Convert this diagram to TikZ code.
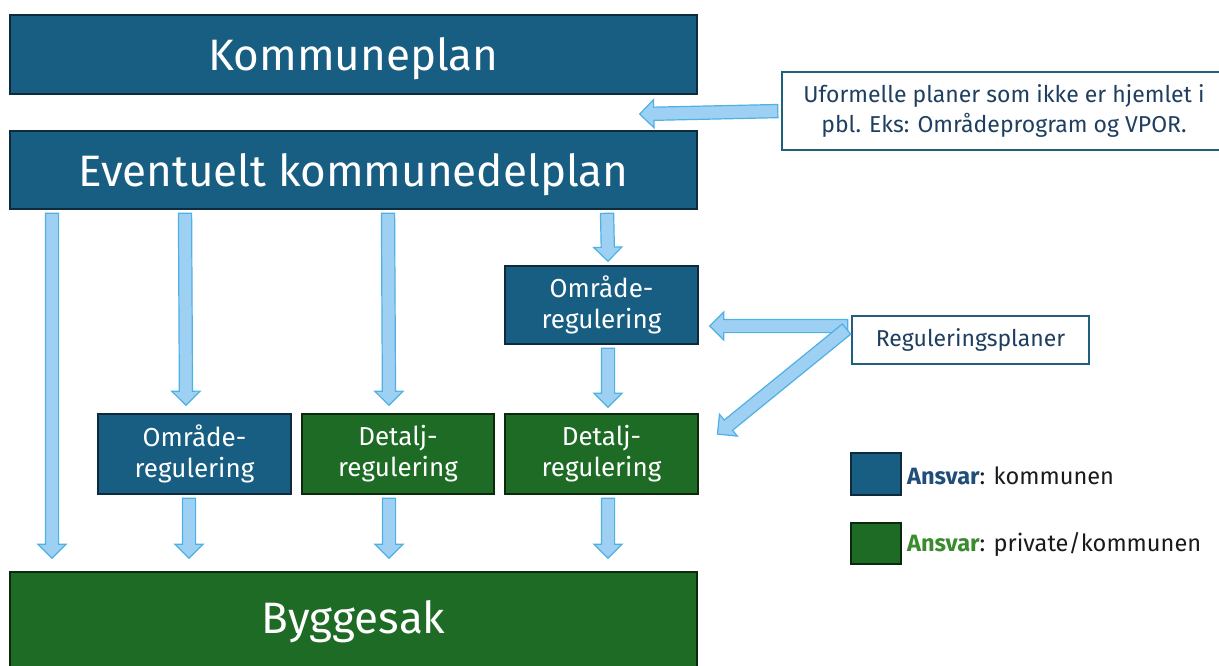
\documentclass[tikz,border=0pt]{standalone}
\usepackage{fontspec}
\setmainfont{Fira Sans}
\usetikzlibrary{shapes.arrows,calc}
\definecolor{bfill}{HTML}{175E82}
\definecolor{bedge}{HTML}{0E2B3D}
\definecolor{gfill}{HTML}{1D6B24}
\definecolor{gedge}{HTML}{0B2A0D}
\definecolor{afill}{HTML}{9DD0F2}
\definecolor{aedge}{HTML}{4FB1E3}
\definecolor{wtext}{HTML}{1F3F60}
\definecolor{wedge}{HTML}{1F5F7F}
\definecolor{ansblue}{HTML}{1F4E79}
\definecolor{ansgreen}{HTML}{3A8A2E}
\definecolor{legtext}{HTML}{1A1A1A}
\tikzset{
  bluebox/.style={draw=bedge, fill=bfill, line width=2pt, text=white, align=center, inner sep=0pt},
  greenbox/.style={draw=gedge, fill=gfill, line width=2pt, text=white, align=center, inner sep=0pt},
  whitebox/.style={draw=wedge, fill=white, line width=1.8pt, text=wtext, align=center, inner sep=0pt},
  bigfont/.style={font=\fontsize{44}{50}\selectfont},
  midfont/.style={font=\fontsize{26}{31}\selectfont},
  smallfont/.style={font=\fontsize{23}{30}\selectfont},
  legfont/.style={font=\fontsize{23.6}{30}\selectfont},
  blockarrow/.style={single arrow, draw=aedge, fill=afill, line width=1.2pt,
    inner xsep=0pt, inner ysep=6pt, minimum width=1pt,
    single arrow head extend=7.5pt, single arrow tip angle=90, outer sep=0pt},
}
\newcommand\blockarr[2]{\path let \p1=($(#2)-(#1)$), \n1={veclen(\x1,\y1)}, \n2={atan2(\y1,\x1)} in
  node[blockarrow, minimum height=\n1, rotate=\n2] at ($(#1)!0.5!(#2)$) {};}
\begin{document}
\begin{tikzpicture}[x=1pt,y=-1pt]
\clip (0,0) rectangle (1219,666);
\fill[white] (0,0) rectangle (1219,666);
% main boxes
\node[bluebox, bigfont, text depth=0pt, minimum width=687, minimum height=79] (kp) at (353.5,54.5) {Kommuneplan};
\node[bluebox, bigfont, text depth=0pt, minimum width=687, minimum height=78] (kdp) at (353.5,170) {Eventuelt kommunedelplan};
\node[greenbox, bigfont, minimum width=687, minimum height=100] (bs) at (353.5,622) {Byggesak};
\node[whitebox, smallfont, minimum width=444, minimum height=78] (uf) at (1004,111)
  {Uformelle planer som ikke er hjemlet i\\pbl. Eks: Områdeprogram og VPOR.};
\node[bluebox, midfont, minimum width=193, minimum height=78] (or1) at (601.5,305) {Område-\\regulering};
\node[bluebox, midfont, minimum width=193, minimum height=80] (or2) at (194.5,454) {Område-\\regulering};
\node[greenbox, midfont, minimum width=192, minimum height=80] (dr1) at (398,454) {Detalj-\\regulering};
\node[greenbox, midfont, minimum width=193, minimum height=80] (dr2) at (601.5,454) {Detalj-\\regulering};
\node[whitebox, smallfont, minimum width=237, minimum height=48] (rp) at (970.5,340) {Reguleringsplaner};
% legend
\node[bluebox, minimum width=50, minimum height=42] (lb) at (876,474) {};
\node[greenbox, minimum width=50, minimum height=41] (lg) at (876,543.5) {};
\node[anchor=base west, legfont, text=legtext, inner sep=0pt] (lbt) at (907,484) {\textcolor{ansblue}{\bfseries Ansvar}: kommunen};
\node[anchor=base west, legfont, text=legtext, inner sep=0pt] (lgt) at (907,551) {\textcolor{ansgreen}{\bfseries Ansvar}: private/kommunen};
% arrow end points
\coordinate (a1s) at ($(kdp.south west)+(43,0)$);
\coordinate (a1e) at ($(bs.north west)+(43,-16)$);
\coordinate (a2s) at ($(kdp.south west)+(176,0)$);
\coordinate (a2e) at ($(or2.north)+(-8.5,-11)$);
\coordinate (a3s) at ($(kdp.south west)+(379,0)$);
\coordinate (a3e) at ($(dr1.north)+(-9,-11)$);
\coordinate (a4s) at ($(kdp.south west)+(598,0)$);
\coordinate (a4e) at ($(or1.north)+(6.5,-7)$);
\coordinate (a5s) at ($(or1.south)+(6.5,0)$);
\coordinate (a5e) at ($(dr2.north)+(6.5,-9)$);
\coordinate (a6s) at ($(or2.south)+(-5.5,0)$);
\coordinate (a6e) at ($(bs.north)+(-164.5,-16)$);
\coordinate (a7s) at ($(dr1.south)+(-9,0)$);
\coordinate (a7e) at ($(bs.north)+(35.5,-16)$);
\coordinate (a8s) at ($(dr2.south)+(6.5,0)$);
\coordinate (a8e) at ($(bs.north)+(254.5,-16)$);
\coordinate (h1e) at ($(kp.south east)+(-55,19)$);
\coordinate (h2s) at ($(rp.west)+(0,-14)$);
\coordinate (h2e) at ($(or1.east)+(14,21)$);
\coordinate (d1s) at ($(rp.west)+(-2,-13)$);
\coordinate (d1e) at ($(dr2.east)+(21,-22)$);
% arrows
\blockarr{a1s}{a1e}
\blockarr{a2s}{a2e}
\blockarr{a3s}{a3e}
\blockarr{a4s}{a4e}
\blockarr{a5s}{a5e}
\blockarr{a6s}{a6e}
\blockarr{a7s}{a7e}
\blockarr{a8s}{a8e}
\blockarr{uf.west}{h1e}
\blockarr{h2s}{h2e}
\blockarr{d1s}{d1e}
\end{tikzpicture}
\end{document}
